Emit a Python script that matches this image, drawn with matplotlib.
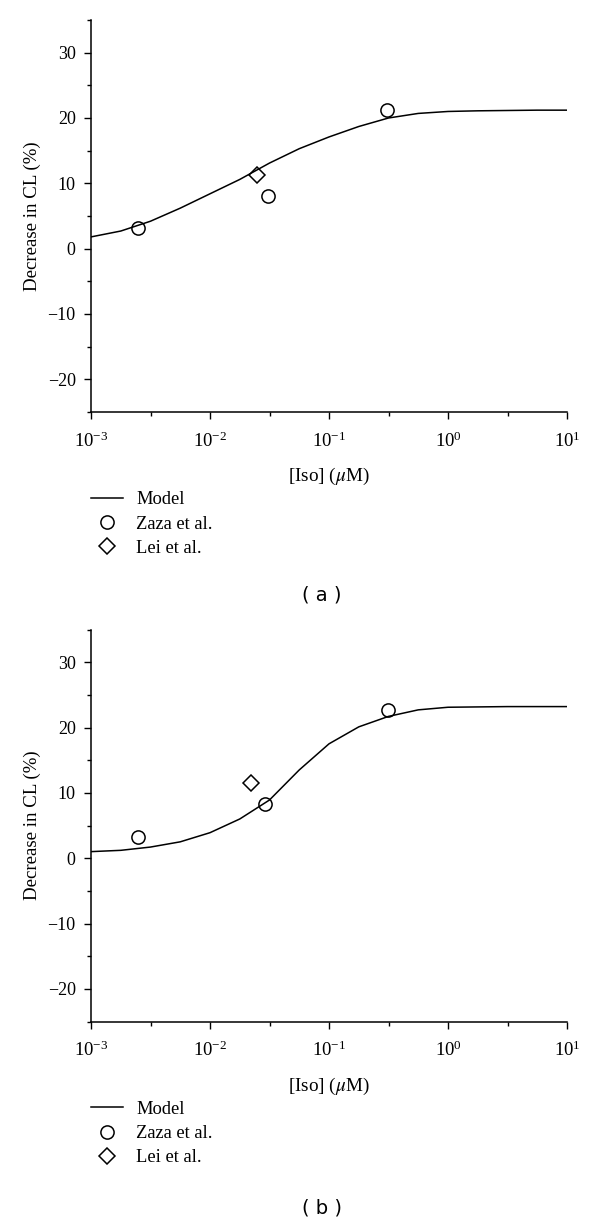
import matplotlib
matplotlib.use('Agg')
import matplotlib.pyplot as plt
import numpy as np
from matplotlib.ticker import MultipleLocator, FixedLocator, LogFormatterMathtext, NullFormatter

plt.rcParams['font.family'] = ['Liberation Serif', 'DejaVu Serif']
plt.rcParams['mathtext.fontset'] = 'stix'

# model curves, sampled every quarter decade of [Iso]
iso_model = [1e-3, 1.78e-3, 3.16e-3, 5.62e-3, 1e-2, 1.78e-2, 3.16e-2, 5.62e-2,
             0.1, 0.178, 0.316, 0.562, 1.0, 1.78, 3.16, 5.62, 10.0]
model_a = [1.8, 2.7, 4.2, 6.2, 8.4, 10.6, 13.1, 15.3, 17.1, 18.7, 20.0,
           20.7, 21.0, 21.1, 21.15, 21.2, 21.2]
model_b = [1.0, 1.2, 1.7, 2.5, 3.9, 6.0, 8.9, 13.5, 17.5, 20.1, 21.7,
           22.7, 23.1, 23.15, 23.2, 23.2, 23.2]

# experimental points
zaza_x_a = [0.0025, 0.031, 0.31]
zaza_y_a = [3.2, 8.1, 21.3]
lei_x_a = [0.0247]
lei_y_a = [11.3]

zaza_x_b = [0.0025, 0.0292, 0.311]
zaza_y_b = [3.2, 8.3, 22.7]
lei_x_b = [0.022]
lei_y_b = [11.5]

panels = [
    (model_a, zaza_x_a, zaza_y_a, lei_x_a, lei_y_a, '( a )', 412, 595),
    (model_b, zaza_x_b, zaza_y_b, lei_x_b, lei_y_b, '( b )', 1021.5, 1208),
]

H = 1218.0
fig = plt.figure(figsize=(6, 12.18), dpi=100)

for model, zx, zy, lx, ly, tag, bottom_px, tag_px in panels:
    ax = fig.add_axes([91 / 600, 1 - bottom_px / H, 476 / 600, 392 / H])
    ax.plot(iso_model, model, color='black', lw=1.1, label='Model')
    ax.plot(zx, zy, 'o', ms=9.5, mfc='none', mec='black', mew=1.1, label='Zaza et al.')
    ax.plot(lx, ly, 'D', ms=8.5, mfc='none', mec='black', mew=1.1, label='Lei et al.')

    ax.set_xscale('log')
    ax.set_xlim(1e-3, 10)
    ax.set_ylim(-25, 35)
    ax.xaxis.set_major_locator(FixedLocator([1e-3, 1e-2, 1e-1, 1, 10]))
    ax.xaxis.set_major_formatter(LogFormatterMathtext())
    ax.xaxis.set_minor_locator(FixedLocator(10 ** np.arange(-2.5, 1, 1.0)))
    ax.xaxis.set_minor_formatter(NullFormatter())
    ax.yaxis.set_major_locator(FixedLocator([-20, -10, 0, 10, 20, 30]))
    ax.yaxis.set_minor_locator(MultipleLocator(5))

    for s in ['top', 'right']:
        ax.spines[s].set_visible(False)
    for s in ['left', 'bottom']:
        ax.spines[s].set_linewidth(1.1)
    ax.tick_params(which='major', direction='out', length=5, width=1.0, pad=6)
    ax.tick_params(which='minor', direction='out', length=3, width=1.0)
    ax.tick_params(axis='y', which='major', labelsize=13)
    ax.tick_params(axis='x', which='major', labelsize=13.5, pad=9)

    ax.set_ylabel('Decrease in CL (%)', fontsize=13.6)
    ax.yaxis.set_label_coords(-0.105, 0.5)
    ax.set_xlabel('[Iso] ($\\mu$M)', fontsize=13.8)
    ax.xaxis.set_label_coords(0.5, -0.138)

    ax.legend(loc='upper left', bbox_to_anchor=(0.0, -0.202), frameon=False,
              fontsize=13.3, numpoints=1, handlelength=1.75, handletextpad=0.7,
              labelspacing=0.4, borderpad=0, borderaxespad=0)

    fig.text(322 / 600, 1 - tag_px / H, tag, ha='center', va='center',
             fontsize=14, family='DejaVu Sans')

fig.savefig('out.png', dpi=100)
